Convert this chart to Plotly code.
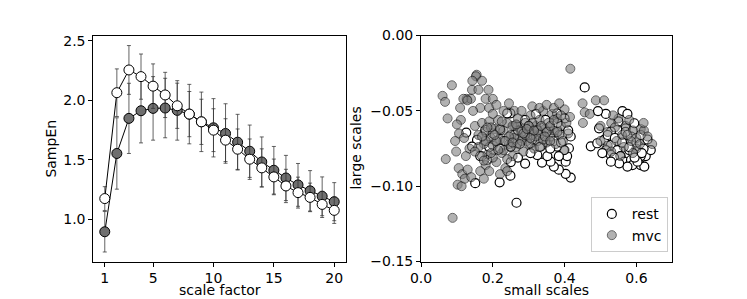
import plotly.graph_objects as go

# ---- left panel data ----
scale = list(range(1, 21))
rest_mean = [1.175, 2.065, 2.256, 2.20, 2.12, 2.046, 1.955, 1.885, 1.82, 1.75,
             1.666, 1.59, 1.506, 1.433, 1.357, 1.281, 1.225, 1.185, 1.126, 1.076]
rest_err = [0.10, 0.20, 0.205, 0.19, 0.187, 0.19, 0.19, 0.19, 0.19, 0.18,
            0.18, 0.17, 0.17, 0.16, 0.15, 0.14, 0.13, 0.12, 0.11, 0.11]
mvc_mean = [0.896, 1.554, 1.849, 1.913, 1.933, 1.936, 1.916, 1.885, 1.82, 1.77,
            1.722, 1.649, 1.573, 1.483, 1.413, 1.348, 1.29, 1.24, 1.194, 1.149]
mvc_err = [0.17, 0.30, 0.295, 0.27, 0.267, 0.25, 0.25, 0.25, 0.25, 0.245,
           0.25, 0.234, 0.22, 0.21, 0.20, 0.19, 0.18, 0.17, 0.163, 0.16]

# ---- right panel data ----
rest_small = [0.126, 0.151, 0.219, 0.266, 0.456, 0.417, 0.403, 0.384, 0.370, 0.361,
              0.337, 0.324, 0.403, 0.407, 0.412, 0.398, 0.384, 0.352, 0.305, 0.249,
              0.24, 0.268, 0.249, 0.249, 0.165, 0.184, 0.202, 0.23, 0.342, 0.361,
              0.379, 0.393, 0.417, 0.379, 0.347, 0.324, 0.295, 0.305, 0.333, 0.361,
              0.379, 0.29, 0.268, 0.221, 0.193, 0.179, 0.156, 0.142,
              0.561, 0.575, 0.515, 0.493, 0.473, 0.496, 0.51, 0.491, 0.529, 0.515,
              0.547, 0.529, 0.556, 0.538, 0.566, 0.585, 0.589, 0.612, 0.622, 0.626,
              0.612, 0.631, 0.612, 0.585, 0.57, 0.547, 0.529, 0.566, 0.58, 0.599,
              0.603, 0.575, 0.552, 0.529, 0.505, 0.64, 0.608, 0.594,
              0.20, 0.23, 0.26, 0.28, 0.31, 0.33, 0.35, 0.37, 0.30, 0.22,
              0.19, 0.27, 0.25, 0.29, 0.36, 0.39, 0.41, 0.40, 0.38, 0.32,
              0.52, 0.54, 0.56, 0.58, 0.60, 0.62, 0.55, 0.57, 0.595, 0.615]
rest_large = [-0.0644, -0.098, -0.0974, -0.111, -0.0344, -0.0943, -0.0918, -0.089, -0.087, -0.0837,
              -0.0843, -0.0793, -0.0837, -0.080, -0.0748, -0.076, -0.080, -0.080, -0.078, -0.0516,
              -0.0516, -0.0605, -0.0737, -0.093, -0.080, -0.0826, -0.076, -0.0726, -0.0605, -0.0582,
              -0.0627, -0.066, -0.067, -0.0516, -0.056, -0.0627, -0.067, -0.0715, -0.0737, -0.0715,
              -0.0737, -0.056, -0.0715, -0.0627, -0.067, -0.0627, -0.0693, -0.0737,
              -0.0501, -0.052, -0.052, -0.0501, -0.0735, -0.0616, -0.0693, -0.0715, -0.0726, -0.076,
              -0.076, -0.0793, -0.080, -0.081, -0.0837, -0.0826, -0.086, -0.086, -0.087, -0.080,
              -0.080, -0.069, -0.066, -0.067, -0.0616, -0.0627, -0.0638, -0.0715, -0.076, -0.078,
              -0.0837, -0.087, -0.0848, -0.0837, -0.078, -0.076, -0.0737, -0.0582,
              -0.065, -0.070, -0.066, -0.064, -0.069, -0.066, -0.064, -0.070, -0.060, -0.075,
              -0.074, -0.081, -0.084, -0.085, -0.075, -0.071, -0.063, -0.055, -0.058, -0.052,
              -0.066, -0.068, -0.071, -0.074, -0.071, -0.075, -0.057, -0.064, -0.081, -0.078]

mvc_small = [0.06, 0.067, 0.074, 0.069, 0.088, 0.102, 0.113, 0.086, 0.109, 0.111,
             0.10, 0.106, 0.098, 0.105, 0.115, 0.122, 0.125, 0.12, 0.13, 0.14, 0.135, 0.095,
             0.155, 0.153, 0.143, 0.17, 0.188, 0.142, 0.127, 0.139, 0.118, 0.129,
             0.16, 0.18, 0.2, 0.165, 0.19, 0.21, 0.145, 0.23, 0.245, 0.26,
             0.15, 0.16, 0.17, 0.175, 0.18, 0.185, 0.19, 0.195, 0.2, 0.205,
             0.21, 0.215, 0.22, 0.225, 0.23, 0.235, 0.24, 0.245, 0.25, 0.255,
             0.26, 0.265, 0.27, 0.275, 0.28, 0.285, 0.29, 0.295, 0.30, 0.305,
             0.31, 0.315, 0.32, 0.325, 0.33, 0.335, 0.34, 0.345, 0.35, 0.355,
             0.36, 0.365, 0.37, 0.375, 0.38, 0.385, 0.39, 0.395, 0.40, 0.405,
             0.41, 0.40, 0.415,
             0.16, 0.17, 0.18, 0.19, 0.2, 0.21, 0.22, 0.23, 0.24, 0.25,
             0.26, 0.27, 0.28, 0.29, 0.3, 0.31, 0.32, 0.33, 0.34, 0.35,
             0.36, 0.37, 0.38, 0.39, 0.2, 0.18, 0.15, 0.165, 0.175, 0.22,
             0.24, 0.28, 0.31, 0.33, 0.35, 0.37, 0.385, 0.195, 0.255, 0.3,
             0.17, 0.185, 0.205, 0.225, 0.245, 0.265, 0.285, 0.305, 0.325, 0.345,
             0.175, 0.195, 0.215, 0.235, 0.255, 0.275, 0.295, 0.315, 0.335, 0.36,
             0.416, 0.45, 0.451, 0.487, 0.51, 0.456, 0.47, 0.644, 0.612, 0.621,
             0.631, 0.50, 0.52, 0.53, 0.54, 0.55, 0.56, 0.57, 0.58, 0.59,
             0.60, 0.545, 0.565, 0.585, 0.60, 0.52, 0.50, 0.53, 0.555, 0.575,
             0.59, 0.61, 0.62, 0.535]
mvc_large = [-0.040, -0.044, -0.055, -0.082, -0.121, -0.099, -0.100, -0.033, -0.048, -0.056,
             -0.059, -0.065, -0.077, -0.088, -0.092, -0.095, -0.080, -0.068, -0.089, -0.094, -0.075, -0.070,
             -0.026, -0.027, -0.030, -0.030, -0.036, -0.036, -0.042, -0.042, -0.042, -0.043,
             -0.036, -0.042, -0.042, -0.048, -0.048, -0.046, -0.050, -0.050, -0.045, -0.050,
             -0.060, -0.066, -0.058, -0.072, -0.064, -0.079, -0.057, -0.068, -0.073, -0.062,
             -0.084, -0.056, -0.069, -0.078, -0.063, -0.088, -0.058, -0.072, -0.066, -0.080,
             -0.060, -0.074, -0.055, -0.068, -0.062, -0.077, -0.058, -0.070, -0.064, -0.053,
             -0.066, -0.075, -0.060, -0.070, -0.056, -0.065, -0.050, -0.062, -0.071, -0.058,
             -0.067, -0.052, -0.063, -0.072, -0.055, -0.066, -0.060, -0.070, -0.049, -0.058,
             -0.065, -0.076, -0.054,
             -0.074, -0.080, -0.086, -0.090, -0.081, -0.070, -0.062, -0.076, -0.082, -0.074,
             -0.068, -0.063, -0.070, -0.066, -0.072, -0.058, -0.067, -0.074, -0.069, -0.064,
             -0.060, -0.056, -0.064, -0.053, -0.052, -0.070, -0.077, -0.090, -0.095, -0.092,
             -0.090, -0.050, -0.047, -0.048, -0.046, -0.048, -0.045, -0.061, -0.060, -0.060,
             -0.067, -0.061, -0.066, -0.057, -0.067, -0.059, -0.065, -0.068, -0.063, -0.067,
             -0.083, -0.078, -0.076, -0.070, -0.071, -0.072, -0.062, -0.063, -0.060, -0.070,
             -0.022, -0.045, -0.058, -0.043, -0.043, -0.051, -0.052, -0.072, -0.062, -0.063,
             -0.067, -0.060, -0.064, -0.058, -0.061, -0.055, -0.066, -0.060, -0.056, -0.063,
             -0.068, -0.070, -0.074, -0.070, -0.075, -0.073, -0.070, -0.077, -0.080, -0.066,
             -0.078, -0.072, -0.058, -0.053]

left_xticks = [1, 5, 10, 15, 20]
left_yticks = [1.0, 1.5, 2.0, 2.5]
right_xticks = [0.0, 0.2, 0.4, 0.6]
right_yticks = [0.0, -0.05, -0.10, -0.15]

FONT = "DejaVu Sans"
FS = 14
fig = go.Figure()

# left panel: mvc first, rest on top
fig.add_trace(go.Scatter(
    x=scale, y=mvc_mean, mode="lines+markers", showlegend=False,
    line=dict(color="black", width=1),
    marker=dict(size=10, color="#6f6f6f", line=dict(color="black", width=1)),
    error_y=dict(type="data", array=mvc_err, color="rgba(50,50,50,0.75)", thickness=1, width=2),
    xaxis="x", yaxis="y"))
fig.add_trace(go.Scatter(
    x=scale, y=rest_mean, mode="lines+markers", showlegend=False,
    line=dict(color="black", width=1),
    marker=dict(size=10, color="white", line=dict(color="black", width=1)),
    error_y=dict(type="data", array=rest_err, color="rgba(50,50,50,0.75)", thickness=1, width=2),
    xaxis="x", yaxis="y"))

# right panel
fig.add_trace(go.Scatter(
    x=rest_small, y=rest_large, mode="markers", name="rest",
    marker=dict(size=9, color="white", line=dict(color="black", width=1.2)),
    xaxis="x2", yaxis="y2"))
fig.add_trace(go.Scatter(
    x=mvc_small, y=mvc_large, mode="markers", name="mvc",
    marker=dict(size=9, color="gray", opacity=0.6, line=dict(color="black", width=1)),
    xaxis="x2", yaxis="y2"))

axis_common = dict(showline=True, linecolor="black", linewidth=1, mirror=True,
                   ticks="outside", ticklen=4, tickcolor="black", showgrid=False,
                   zeroline=False, automargin=False,
                   tickfont=dict(family=FONT, size=FS, color="black"))

title_font = dict(family=FONT, size=FS, color="black")
axis_titles = [
    dict(text="scale factor", x=219.5 / 747, y=0.0, yanchor="bottom", xanchor="center", textangle=0),
    dict(text="small scales", x=546.5 / 747, y=0.0, yanchor="bottom", xanchor="center", textangle=0),
    dict(text="SampEn", x=51 / 747, y=(299 - 148.6) / 299, yanchor="middle", xanchor="center", textangle=-90),
    dict(text="large scales", x=356 / 747, y=(299 - 148.6) / 299, yanchor="middle", xanchor="center", textangle=-90),
]

fig.update_layout(
    width=747, height=299,
    margin=dict(l=0, r=0, t=0, b=0, autoexpand=False),
    paper_bgcolor="white", plot_bgcolor="white",
    font=dict(family=FONT, size=FS, color="black"),
    xaxis=dict(domain=[0.1249, 0.4628], range=[0.05, 20.95], tickvals=left_xticks,
               anchor="y", **axis_common),
    yaxis=dict(domain=[0.1254, 0.881], range=[0.646, 2.545], tickvals=left_yticks,
               tickformat=".1f", anchor="x", **axis_common),
    xaxis2=dict(domain=[0.5636, 0.9000], range=[0, 0.7], tickvals=right_xticks,
                tickformat=".1f", anchor="y2", **axis_common),
    yaxis2=dict(domain=[0.1254, 0.881], range=[-0.15, 0.0], tickvals=right_yticks,
                tickformat=".2f", anchor="x2", **axis_common),
    legend=dict(x=0.894, y=0.156, xanchor="right", yanchor="bottom",
                bgcolor="rgba(255,255,255,0.8)", bordercolor="#cccccc", borderwidth=1,
                font=dict(family=FONT, size=FS, color="black"), itemwidth=30,
                tracegroupgap=2),
    annotations=[dict(text=t["text"], x=t["x"], y=t["y"], xref="paper", yref="paper",
                      xanchor=t["xanchor"], yanchor=t["yanchor"], showarrow=False,
                      borderpad=0, textangle=t["textangle"], font=title_font)
                 for t in axis_titles],
)

fig.write_html("out.html", config={"displayModeBar": False},
               post_script="document.body.style.margin='0';document.body.style.padding='0';"
                           "document.body.style.overflow='hidden';")
